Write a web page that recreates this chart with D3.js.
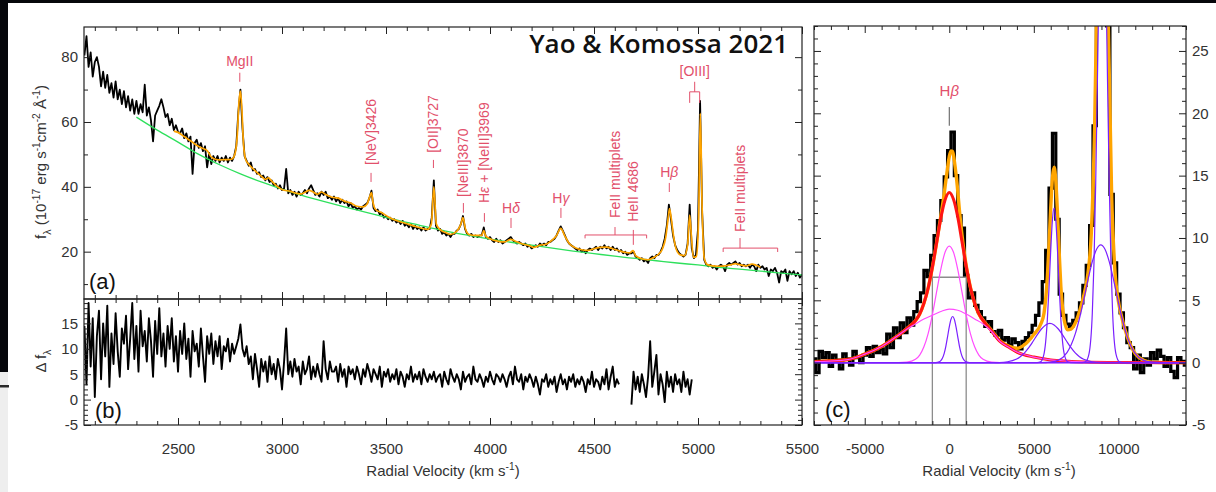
<!DOCTYPE html>
<html>
<head>
<meta charset="utf-8">
<script src="https://cdn.jsdelivr.net/npm/d3@7"></script>
<style>
  html, body { margin: 0; padding: 0; background: #06070b; }
  svg { display: block; }
</style>
</head>
<body>
<svg id="fig" width="1216" height="492"></svg>
<script>
// ---------------------------------------------------------------------------
// Data
// ---------------------------------------------------------------------------

// (a) observed spectrum, 10 Å sampling starting at 2050 Å
const specStart = 2050;
const specStep = 10;
const specFlux = [
  80.5, 86.5, 77.0, 81.5, 74.0, 78.5, 80.0, 77.0, 71.0, 75.5, 70.5, 74.5, 69.0, 72.0, 67.5, 72.5, 67.0, 70.0, 65.5, 69.5, 64.5, 68.0, 63.5, 67.0, 62.5,
  66.5, 62.5, 65.5, 63.0, 71.5, 62.0, 64.5, 60.5, 54.0, 62.0, 63.5, 65.0, 67.0, 64.5, 61.5, 62.5, 59.0, 61.0, 57.5, 59.0,
  57.0, 56.5, 58.0, 55.0, 56.5, 54.0, 55.5, 44.0, 53.5, 54.5, 52.0, 53.5, 51.0, 52.5, 46.0, 50.5, 47.0, 49.5, 48.0, 49.5, 47.5, 49.0, 48.0, 49.5, 47.5, 49.0, 48.0,
  49.5, 52.5, 63.0, 70.0, 58.0, 49.5, 48.0,
  46.5, 47.5, 45.0, 45.5, 44.0, 44.5, 43.0, 43.5, 42.0, 43.0, 41.5, 42.0, 40.5, 41.0, 39.5, 40.5, 39.0, 39.5, 45.5, 38.0, 39.0, 37.5, 38.5, 37.0, 38.5, 37.5, 38.0, 39.0, 38.0, 39.5, 40.5, 39.0, 37.5, 38.0, 37.0, 38.5,
  37.5, 38.5, 36.5, 37.0, 36.0, 37.0, 35.5, 36.5, 35.0, 36.0, 35.0, 35.5, 34.0, 35.0, 33.5, 34.0, 33.0, 33.5, 33.0, 34.0, 34.5, 35.0,
  36.5, 38.8, 33.5,
  32.5, 33.0, 31.5, 32.0, 30.5, 31.0, 30.0, 30.5, 29.5, 30.0, 29.0, 29.5, 28.5, 29.5, 28.0, 28.5, 27.5, 28.5, 27.0, 28.0, 27.0, 27.5, 26.5, 27.5, 26.5, 27.0, 27.0,
  30.5, 42.0, 28.0, 26.5, 27.0, 25.5, 26.0, 25.0, 25.5, 24.5, 25.5, 25.5, 26.5, 27.0, 28.5, 31.0, 27.0, 25.5, 25.0, 25.5, 24.5, 25.0, 24.5, 25.0, 25.0, 27.5, 24.5, 24.0,
  24.5, 23.5, 23.0, 24.0, 23.0, 23.5, 22.5, 23.0, 23.5, 24.0, 24.5, 23.5, 23.0, 22.5, 23.0, 22.5, 22.0, 22.5, 21.5, 22.0, 21.0, 21.5, 22.0, 21.5, 22.5, 22.0, 22.5, 22.0,
  23.0, 23.0, 23.5, 24.0, 25.0, 26.5, 27.8,
  26.5, 25.0, 23.5, 22.5, 22.0, 21.5, 21.0, 20.5, 21.0, 20.0, 20.5, 19.5, 20.5, 21.0, 20.5, 21.0, 21.5, 20.5, 21.5, 21.0, 22.0, 21.0, 21.5, 20.5, 21.5, 20.5, 21.0, 20.0,
  20.5, 19.5, 20.0, 19.0, 19.5, 19.5, 20.0, 18.5, 18.0, 17.5, 18.0, 17.0, 17.5, 16.5, 18.0, 18.5, 18.0, 19.0, 19.0, 20.0, 21.5, 24.0, 28.0, 34.5, 30.0, 25.0, 22.0, 20.5,
  19.5, 19.0, 18.5, 19.0, 22.5, 34.5, 21.0, 18.0, 19.0,
  27.0, 66.5, 32.0, 17.5, 16.0, 15.5, 16.0, 15.0, 15.5, 14.5, 15.5, 16.0, 15.5, 14.0, 16.0, 16.5, 16.0, 16.5, 17.0, 16.0, 16.5, 15.5, 16.0, 15.5, 16.0, 15.0,
  16.0, 15.5, 14.0, 16.0, 15.0, 15.5, 14.5, 15.0, 12.5, 14.5, 14.0, 15.0, 13.5, 10.5, 14.0, 13.5, 14.5, 11.0, 14.0, 13.0, 14.0, 12.5, 13.5, 12.0, 13.0
];

// (a) best-fit model (wavelength, flux)
const modelWave = [2480, 2500, 2530, 2560, 2590, 2620, 2640, 2660, 2680, 2700, 2720, 2740, 2760, 2775, 2785, 2793, 2800, 2807, 2815, 2825, 2840, 2870, 2900, 2920, 2935, 2950, 2980, 3000, 3040, 3070, 3090, 3110, 3130, 3150, 3170, 3190, 3210, 3240, 3270, 3300, 3330, 3360, 3390, 3410, 3422, 3430, 3438, 3450, 3480, 3510, 3550, 3600, 3650, 3700, 3718, 3730, 3742, 3760, 3790, 3810, 3840, 3860, 3870, 3882, 3900, 3930, 3960, 3970, 3980, 4000, 4040, 4070, 4100, 4120, 4150, 4190, 4210, 4240, 4270, 4300, 4320, 4340, 4360, 4380, 4410, 4440, 4470, 4500, 4530, 4560, 4590, 4620, 4650, 4670, 4688, 4700, 4730, 4760, 4790, 4810, 4830, 4845, 4855, 4863, 4872, 4882, 4895, 4915, 4935, 4950, 4960, 4968, 4978, 4992, 5003, 5011, 5020, 5030, 5045, 5070, 5100, 5130, 5160, 5180, 5200, 5230, 5260, 5280, 5300];
const modelFlux = [57.2, 56.8, 55.5, 54.2, 52.8, 51.8, 51.2, 49.2, 48.5, 48.3, 48.4, 48.4, 48.6, 50.5, 56.0, 66.0, 69.5, 64.0, 53.0, 48.5, 47.0, 45.0, 43.3, 42.3, 42.8, 41.8, 40.0, 39.2, 38.6, 38.0, 37.8, 38.3, 38.9, 38.4, 37.7, 38.4, 37.6, 36.8, 36.5, 35.6, 35.0, 34.0, 33.8, 34.8, 37.0, 38.2, 35.0, 33.0, 32.0, 30.8, 29.6, 28.6, 27.6, 26.9, 28.5, 40.0, 28.5, 26.8, 25.8, 25.3, 26.3, 28.5, 30.5, 27.0, 25.3, 25.0, 25.0, 26.5, 24.8, 24.0, 23.2, 23.0, 23.8, 23.3, 22.5, 21.8, 21.3, 22.0, 22.3, 23.6, 25.0, 27.2, 24.8, 22.6, 21.2, 20.6, 20.4, 20.9, 21.3, 21.4, 20.9, 20.3, 19.8, 19.6, 20.3, 18.8, 17.8, 17.5, 18.3, 19.2, 21.0, 24.5, 29.5, 33.3, 30.0, 25.0, 20.8, 19.0, 18.8, 22.0, 31.3, 25.0, 18.2, 18.5, 30.0, 62.7, 33.0, 18.0, 16.0, 15.6, 15.5, 15.6, 16.0, 16.3, 16.0, 15.6, 16.2, 15.8, 15.2];

// (a) power-law continuum
const contWave = [2300, 2400, 2500, 2600, 2700, 2800, 2900, 3000, 3100, 3200, 3300, 3400, 3500, 3600, 3700, 3800, 3900, 4000, 4100, 4200, 4300, 4400, 4500, 4600, 4700, 4800, 4900, 5000, 5100, 5200, 5300, 5400, 5500];
const contFlux = [61.5, 57.5, 53.8, 50.0, 46.8, 44.0, 41.5, 39.3, 37.3, 35.5, 33.8, 32.2, 30.6, 29.0, 27.6, 26.2, 25.0, 23.9, 22.9, 22.0, 21.1, 20.2, 19.4, 18.6, 17.9, 17.2, 16.5, 15.9, 15.2, 14.6, 14.0, 13.4, 12.8];

// (b) difference spectrum, two chunks at 10 Å sampling
const residStartA = 2050;
const residA = [
  14.5, 3.0, 19.0, 6.5, 16.0, 0.5, 12.5, 17.5, 4.0, 15.0,
  8.5, 18.5, 2.5, 13.0, 7.0, 17.0, 9.5, 4.5, 14.0, 11.0,
  16.5, 6.0, 12.0, 19.0, 8.0, 14.5, 5.5, 17.5, 10.5, 13.5,
  7.5, 16.0, 11.5, 4.5, 15.5, 9.0, 18.0, 8.5, 13.0, 6.5,
  14.5, 10.0, 16.0, 7.5, 12.5, 5.5, 13.5, 9.0, 15.0, 8.0,
  12.0, 4.5, 13.5, 9.5, 11.0, 6.5, 14.0, 8.5, 3.5, 12.5,
  9.0, 13.0, 7.0, 11.5, 8.5, 12.5, 6.0, 10.5, 9.5, 12.0,
  7.5, 11.0, 9.0, 10.5, 12.0, 14.8, 10.0, 8.5, 10.5, 7.0,
  8.5, 4.0, 9.0, 6.0, 2.5, 8.0, 5.5, 7.5, 3.5, 8.5,
  5.0, 7.0, 4.0, 8.0, 6.0, 2.0, 7.5, 14.0, 5.0, 7.5,
  4.5, 8.0, 5.5, 6.5, 3.0, 7.5, 5.0, 6.0, 8.5, 4.0,
  6.5, 4.5, 7.0, 5.0, 3.5, 11.5, 6.0, 4.0, 7.5, 5.5,
  5.5, 6.5, 3.5, 7.0, 4.5, 6.0, 2.5, 6.5, 5.0, 6.0,
  4.0, 6.5, 5.0, 3.0, 6.0, 4.5, 7.0, 5.5, 3.5, 6.0,
  5.0, 4.0, 6.5, 2.5, 5.5, 4.5, 6.0, 3.5, 5.0, 4.0,
  6.0, 3.0, 5.5, 4.5, 2.5, 5.0, 4.0, 6.5, 3.5, 5.0,
  4.0, 5.5, 3.0, 6.0, 4.5, 3.5, 5.0, 4.0, 5.5, 3.5,
  4.5, 5.0, 2.5, 5.5, 4.0, 3.0, 6.0, 4.5, 3.5, 5.0,
  4.0, 2.0, 5.5, 3.5, 4.5, 5.0, 3.0, 6.5, 4.0, 3.5,
  5.0, 4.0, 2.5, 4.5, 3.5, 5.5, 4.0, 3.0, 5.0, 4.5,
  3.5, 5.0, 4.0, 2.5, 4.5, 5.5, 3.0, 6.5, 4.0, 3.5,
  5.0, 2.0, 4.5, 3.5, 5.0, 4.0, 2.5, 4.5, 3.0, 1.0,
  4.0, 3.5, 5.0, 2.5, 4.0, 3.0, 4.5, 1.5, 3.5, 5.0,
  3.0, 4.0, 2.0, 4.5, 3.5, 5.0, 2.5, 4.0, 3.0, 4.5,
  3.5, 1.5, 4.0, 3.0, 5.5, 2.5, 4.0, 3.5, 2.0, 4.5,
  3.0, 6.0, 2.0, 4.5, 6.5, 2.5, 4.0, 3.0
];
const residStartB = 4680;
const residB = [
  -1.0, 5.5, 2.0, 4.5, 1.5, 5.0, 3.0, 0.5, 4.5, 11.5,
  2.5, 5.5, 8.8, 1.0, 5.0, 3.0, -0.5, 5.5, 2.5, 4.5,
  1.5, 5.0, 3.0, 4.0, 1.5, 5.5, 2.5, 4.0, 1.0, 4.0
];

// (c) continuum-subtracted H-beta / [OIII] region, 200 km/s bins from -8000 km/s
const velStart = -8000;
const velStep = 200;
const velFlux = [
  0.3, -0.8, 0.9, 0.4, 0.8, -0.3, 0.6, 0.2, -0.5, 0.7,
  0.3, -0.2, 0.9, 0.4, 0.0, 0.6, 1.2, 0.5, 1.3, 0.8,
  1.1, 0.7, 2.3, 1.2, 2.8, 2.0, 3.2, 2.4, 3.6, 3.0,
  4.1, 4.9, 5.6, 7.4, 6.9, 8.6, 10.2, 11.4, 13.0, 14.9,
  17.0, 18.5, 15.0, 11.8, 10.8, 7.0, 5.2, 5.6, 4.6, 4.1,
  3.6, 2.9, 3.3, 2.5, 2.2, 2.6, 1.8, 2.0, 1.4, 1.9,
  1.6, 1.1, 1.7, 2.0, 2.4, 3.0, 3.8, 4.8, 6.5, 9.0,
  14.0, 18.4, 11.5, 5.5, 3.8, 3.1, 2.9, 3.4, 4.0, 4.8,
  6.2, 7.8, 11.0, 19.0, 32.0, 45.0, 44.0, 27.0, 13.5, 8.0,
  5.5, 4.0, 2.8, 1.6, 1.2, -0.5, 0.6, -0.8, 0.3, -0.2,
  0.8, 0.3, 1.0, 0.5, -0.3, 0.4, -0.7, -1.2, 0.4, 0.1,
  -0.2
];

// (c) fit components: [velocity km/s, flux]
const fitTotal = [[-8000,0.07],[-6000,0.25],[-5000,0.68],[-4000,1.3],[-3000,2.2],[-2500,2.74],[-2000,3.37],[-1750,3.9],[-1500,4.77],[-1250,5.98],[-1000,7.64],[-750,9.6],[-500,11.75],[-300,13.55],[-200,14.63],[-100,15.64],[0,16.52],[100,16.97],[200,16.95],[300,16.17],[400,15.12],[500,13.78],[600,12.23],[750,10.26],[1000,7.8],[1250,6.03],[1500,4.77],[1750,3.91],[2000,3.4],[2500,2.6],[3000,1.75],[3500,1.33],[4000,1.15],[4500,1.5],[5000,2.26],[5400,3.06],[5600,3.95],[5800,6.86],[5900,9.47],[6000,12.41],[6100,14.81],[6200,15.67],[6300,14.6],[6400,12.0],[6500,8.86],[6600,6.08],[6800,3.41],[7000,2.64],[7200,2.69],[7400,3.04],[7600,3.68],[7800,4.56],[8000,5.64],[8200,7.16],[8400,10.39],[8600,19.16],[8800,35.3],[8900,43.5],[9000,48.5],[9100,49.0],[9200,44.4],[9300,36.5],[9400,27.5],[9600,13.6],[9800,7.3],[10000,4.95],[10200,3.66],[10400,2.63],[10600,1.8],[10800,1.17],[11000,0.72],[11500,0.18],[12000,0.03],[13000,0],[14000,0]];
const hbBroadTotal = [[-8000,0.07],[-6000,0.25],[-5000,0.68],[-4000,1.3],[-3000,2.2],[-2500,2.74],[-2000,3.37],[-1750,3.9],[-1500,4.77],[-1250,5.98],[-1000,7.64],[-750,9.6],[-500,11.59],[-250,13.05],[0,13.65],[250,13.1],[500,11.69],[750,9.72],[1000,7.74],[1250,6.03],[1500,4.77],[1750,3.91],[2000,3.37],[2500,2.54],[3000,1.7],[3500,1.25],[4000,0.85],[5000,0.45],[6000,0.22],[7000,0.12],[8000,0.06],[10000,0.02],[14000,0]];
const hbGaussA = [[-8000,0],[-3000,0],[-2500,0.04],[-2000,0.27],[-1750,0.61],[-1500,1.27],[-1250,2.33],[-1000,3.84],[-750,5.67],[-500,7.49],[-250,8.85],[0,9.35],[250,8.85],[500,7.49],[750,5.67],[1000,3.84],[1250,2.33],[1500,1.27],[1750,0.61],[2000,0.27],[2500,0.04],[3000,0],[14000,0]];
const hbGaussB = [[-8000,0.07],[-6000,0.25],[-5000,0.68],[-4000,1.3],[-3000,2.2],[-2500,2.7],[-2000,3.1],[-1500,3.5],[-1000,3.8],[-500,4.1],[0,4.3],[500,4.2],[1000,3.9],[1500,3.5],[2000,3.1],[2500,2.5],[3000,1.7],[3500,1.25],[4000,0.85],[5000,0.45],[6000,0.22],[7000,0.12],[8000,0.06],[10000,0.02],[14000,0]];
const hbNarrow = [[-8000,0],[-800,0],[-600,0.06],[-500,0.16],[-400,0.37],[-300,0.75],[-200,1.33],[-100,2.09],[0,2.87],[100,3.47],[200,3.7],[300,3.47],[400,2.87],[500,2.09],[600,1.33],[700,0.75],[800,0.37],[900,0.16],[1000,0.06],[1200,0],[14000,0]];
const o4959Narrow = [[-8000,0],[5200,0],[5400,0.07],[5600,0.69],[5700,1.67],[5800,3.45],[5900,6.04],[6000,9.0],[6100,11.45],[6200,12.4],[6300,11.45],[6400,9.0],[6500,6.04],[6600,3.45],[6700,1.67],[6800,0.69],[7000,0.07],[7200,0],[14000,0]];
const o4959Broad = [[-8000,0],[2450,0],[2950,0.01],[3450,0.07],[3950,0.27],[4200,0.48],[4450,0.78],[4700,1.2],[4950,1.7],[5200,2.23],[5450,2.7],[5700,3.03],[5950,3.15],[6200,3.03],[6450,2.7],[6700,2.23],[6950,1.7],[7200,1.2],[7450,0.78],[7700,0.48],[7950,0.27],[8450,0.07],[8950,0.01],[9450,0],[14000,0]];
const o5007Narrow = [[-8000,0],[7860,0],[8060,0.07],[8260,0.68],[8460,4.0],[8560,8.1],[8660,14.4],[8760,22.5],[8860,31.0],[8960,37.5],[9060,40.0],[9160,37.5],[9260,31.0],[9360,22.5],[9460,14.4],[9560,8.1],[9660,4.0],[9860,0.68],[10060,0.07],[10260,0],[14000,0]];
const o5007Broad = [[-8000,0],[5460,0],[5960,0.04],[6460,0.2],[6960,0.8],[7210,1.43],[7460,2.35],[7710,3.6],[7960,5.09],[8210,6.68],[8460,8.1],[8710,9.09],[8960,9.45],[9210,9.09],[9460,8.1],[9710,6.68],[9960,5.09],[10210,3.6],[10460,2.35],[10710,1.43],[10960,0.8],[11460,0.2],[11960,0.04],[12460,0],[14000,0]];

// FWHM marker of the broad H-beta component
const fwhmEdges = [-1000, 1000];
const fwhmLevel = 6.85;

// Tick values
const abMajorX = [2500, 3000, 3500, 4000, 4500, 5000, 5500];
const aMajorY = [20, 40, 60, 80];
const bMajorY = [-5, 0, 5, 10, 15];
const cMajorX = [-5000, 0, 5000, 10000];
const cMajorY = [-5, 0, 5, 10, 15, 20, 25];

// Emission-line annotations for panel (a)
const lineTags = [
  { parts: [["MgII"]], wave: 2797, flux: 77.2, rotated: false, tick: [75.2, 72.4] },
  { parts: [["[NeV]3426"]], wave: 3428, flux: 46.7, rotated: true, tick: [44.3, 41.5] },
  { parts: [["[OII]3727"]], wave: 3728, flux: 50.5, rotated: true, tick: [48.3, 45.8] },
  { parts: [["[NeIII]3870"]], wave: 3872, flux: 36.9, rotated: true, tick: [35.0, 32.0] },
  { parts: [["H"], ["ε", "it"], [" + [NeIII]3969"]], wave: 3973, flux: 35.0, rotated: true, tick: [31.9, 29.2] },
  { parts: [["H"], ["δ", "it"]], wave: 4101, flux: 31.9, rotated: false, tick: [30.4, 27.3] },
  { parts: [["H"], ["γ", "it"]], wave: 4341, flux: 35.0, rotated: false, tick: [33.5, 30.4] },
  { parts: [["FeII multiplets"]], wave: 4601, flux: 30.4, rotated: true, tick: null },
  { parts: [["HeII 4686"]], wave: 4689, flux: 29.2, rotated: true, tick: [26.7, 22.1] },
  { parts: [["H"], ["β", "it"]], wave: 4862, flux: 43.1, rotated: false, tick: [41.2, 38.4] },
  { parts: [["[OIII]"]], wave: 4984, flux: 74.2, rotated: false, tick: null },
  { parts: [["FeII multiplets"]], wave: 5202, flux: 26.1, rotated: true, tick: null }
];
// brackets: [left wave, right wave, centre wave, bar flux, centre-tick end flux, leg end flux]
const lineBrackets = [
  [4457, 4753, 4601, 25.15, 27.6, 24.1],
  [4960, 5008, 4984, 69.3, 72.4, 65.9],
  [5121, 5383, 5202, 21.1, 24.2, 19.9]
];

// ---------------------------------------------------------------------------
// Drawing
// ---------------------------------------------------------------------------
const W = 1216, H = 492;
const FONT = "'Liberation Sans', Arial, Helvetica, sans-serif";
const INK = "#222";
const TXT = "#333";
const TAG = "#e2506b";
const ORANGE = "#ffa500", GREEN = "#2ee05c", RED = "#ff1414", MAGENTA = "#ff4cff", PURPLE = "#7a1fff";

const svg = d3.select("#fig");

// page backdrop
svg.append("rect").attr("width", W).attr("height", H).attr("fill", "#06070b");
svg.append("rect").attr("x", 8).attr("y", 3).attr("width", W - 8).attr("height", H - 3).attr("fill", "#ffffff");
svg.append("rect").attr("x", 0).attr("y", 372).attr("width", 8).attr("height", H - 372).attr("fill", "#eeeeee");
svg.append("rect").attr("x", 0).attr("y", 385).attr("width", 9).attr("height", 2.5).attr("fill", "#2a2a2a");

const A = { x0: 84, x1: 802, y0: 27, y1: 299 };
const B = { x0: 84, x1: 802, y0: 299, y1: 425 };
const C = { x0: 814, x1: 1186, y0: 26, y1: 425 };

const xAB = d3.scaleLinear().domain([2048, 5500]).range([A.x0, A.x1]);
const yA = d3.scaleLinear().domain([5.4, 89.3]).range([A.y1, A.y0]);
const yB = d3.scaleLinear().domain([-5, 19.8]).range([B.y1, B.y0]);
const xC = d3.scaleLinear().domain([-8000, 14000]).range([C.x0, C.x1]);
const yC = d3.scaleLinear().domain([-5, 27]).range([C.y1, C.y0]);

const defs = svg.append("defs");
function clipFor(id, box) {
  defs.append("clipPath").attr("id", id).append("rect")
    .attr("x", box.x0).attr("y", box.y0).attr("width", box.x1 - box.x0).attr("height", box.y1 - box.y0);
  return svg.append("g").attr("clip-path", `url(#${id})`);
}

function tickSet(orient, scale, pos, values, len, fmt, pad) {
  const maker = { bottom: d3.axisBottom, top: d3.axisTop, left: d3.axisLeft, right: d3.axisRight }[orient];
  const ax = maker(scale).tickValues(values).tickSizeInner(-len).tickSizeOuter(0)
    .tickPadding(pad || 0).tickFormat(fmt || (() => ""));
  const horiz = orient === "bottom" || orient === "top";
  const g = svg.append("g").attr("transform", horiz ? `translate(0,${pos})` : `translate(${pos},0)`).call(ax);
  g.select(".domain").remove();
  g.selectAll("line").attr("stroke", INK).attr("stroke-width", 1);
  g.selectAll("text").attr("font-family", FONT).attr("font-size", 15).attr("fill", TXT);
  return g;
}
const minorOf = (lo, hi, step, majors) => d3.range(lo, hi + step / 2, step).filter(v => !majors.includes(v));
const num = d => String(d);

function frame(box) {
  svg.append("rect").attr("x", box.x0).attr("y", box.y0)
    .attr("width", box.x1 - box.x0).attr("height", box.y1 - box.y0)
    .attr("fill", "none").attr("stroke", INK).attr("stroke-width", 1.2);
}

function rich(textSel, parts, size) {
  let shift = 0;
  parts.forEach(([t, mode]) => {
    const ts = textSel.append("tspan").text(t);
    let target = 0;
    if (mode === "sup") { target = -0.42 * size; ts.attr("font-size", size * 0.68); }
    else if (mode === "sub") { target = 0.32 * size; ts.attr("font-size", size * 0.72); }
    else if (mode === "it") { ts.attr("font-style", "italic"); }
    if (target - shift !== 0) ts.attr("dy", target - shift);
    shift = target;
  });
}

// ---------------- panel (a) ----------------
const gA = clipFor("clipA", A);
const specWave = specFlux.map((_, i) => specStart + specStep * i);

gA.append("path").datum(specFlux)
  .attr("d", d3.line().x((d, i) => xAB(specWave[i])).y(d => yA(d)))
  .attr("fill", "none").attr("stroke", "#000").attr("stroke-width", 1.8).attr("stroke-linejoin", "round");

gA.append("path").datum(contFlux)
  .attr("d", d3.line().curve(d3.curveMonotoneX).x((d, i) => xAB(contWave[i])).y(d => yA(d)))
  .attr("fill", "none").attr("stroke", GREEN).attr("stroke-width", 1.3);

gA.append("path").datum(modelFlux)
  .attr("d", d3.line().curve(d3.curveMonotoneX).x((d, i) => xAB(modelWave[i])).y(d => yA(d)))
  .attr("fill", "none").attr("stroke", ORANGE).attr("stroke-width", 1.7);

// line tags
const tagG = svg.append("g").attr("font-family", FONT).attr("font-size", 14).attr("fill", TAG);
lineTags.forEach(t => {
  const x = xAB(t.wave);
  if (t.rotated) {
    const tx = tagG.append("text").attr("transform", `translate(${x},${yA(t.flux)}) rotate(-90)`)
      .attr("text-anchor", "start").attr("dy", "0.36em");
    rich(tx, t.parts, 14);
  } else {
    const tx = tagG.append("text").attr("x", x).attr("y", yA(t.flux)).attr("text-anchor", "middle");
    rich(tx, t.parts, 14);
  }
  if (t.tick) {
    tagG.append("line").attr("x1", x).attr("x2", x).attr("y1", yA(t.tick[0])).attr("y2", yA(t.tick[1]))
      .attr("stroke", TAG).attr("stroke-width", 1);
  }
});
lineBrackets.forEach(([wl, wr, wc, fBar, fTop, fLeg]) => {
  const p = d3.path();
  p.moveTo(xAB(wl), yA(fLeg)); p.lineTo(xAB(wl), yA(fBar)); p.lineTo(xAB(wr), yA(fBar)); p.lineTo(xAB(wr), yA(fLeg));
  p.moveTo(xAB(wc), yA(fBar)); p.lineTo(xAB(wc), yA(fTop));
  tagG.append("path").attr("d", p.toString()).attr("fill", "none").attr("stroke", TAG).attr("stroke-width", 1);
});

frame(A);
const abMinorX = minorOf(2100, 5400, 100, abMajorX);
tickSet("top", xAB, A.y0, abMajorX, 7);
tickSet("top", xAB, A.y0, abMinorX, 4);
tickSet("bottom", xAB, A.y1, abMajorX, 7);
tickSet("bottom", xAB, A.y1, abMinorX, 4);
tickSet("left", yA, A.x0, aMajorY, 7, num, 6);
tickSet("left", yA, A.x0, [10, 30, 50, 70], 4);
tickSet("right", yA, A.x1, aMajorY, 7);
tickSet("right", yA, A.x1, [10, 30, 50, 70], 4);

// title
svg.append("text").attr("x", 788).attr("y", 53).attr("text-anchor", "end")
  .attr("font-family", "'Open Sans', 'Noto Sans', sans-serif").attr("font-weight", 600)
  .attr("font-size", 26).attr("fill", "#111").text("Yao & Komossa 2021");

svg.append("text").attr("x", 89).attr("y", 289).attr("font-family", FONT).attr("font-size", 22).attr("fill", "#111").text("(a)");

const yLabA = svg.append("text").attr("transform", "translate(46,162) rotate(-90)")
  .attr("text-anchor", "middle").attr("font-family", FONT).attr("font-size", 15).attr("fill", TXT);
rich(yLabA, [["f"], ["λ", "sub"], [" (10"], ["-17", "sup"], [" erg s"], ["-1", "sup"], ["cm"], ["-2", "sup"], [" Å"], ["-1", "sup"], [")"]], 15);

// ---------------- panel (b) ----------------
const gB = clipFor("clipB", B);
const residLine = start => d3.line().x((d, i) => xAB(start + 10 * i)).y(d => yB(d));
gB.append("path").datum(residA).attr("d", residLine(residStartA))
  .attr("fill", "none").attr("stroke", "#000").attr("stroke-width", 1.9).attr("stroke-linejoin", "round");
gB.append("path").datum(residB).attr("d", residLine(residStartB))
  .attr("fill", "none").attr("stroke", "#000").attr("stroke-width", 1.9).attr("stroke-linejoin", "round");

frame(B);
tickSet("top", xAB, B.y0, abMajorX, 7);
tickSet("top", xAB, B.y0, abMinorX, 4);
tickSet("bottom", xAB, B.y1, abMajorX, 7, num, 18);
tickSet("bottom", xAB, B.y1, abMinorX, 4);
const bMinorY = minorOf(-4, 19, 1, bMajorY);
tickSet("left", yB, B.x0, bMajorY, 7, num, 6);
tickSet("left", yB, B.x0, bMinorY, 4);
tickSet("right", yB, B.x1, bMajorY, 7);
tickSet("right", yB, B.x1, bMinorY, 4);

svg.append("text").attr("x", 95).attr("y", 418).attr("font-family", FONT).attr("font-size", 22).attr("fill", "#111").text("(b)");
const yLabB = svg.append("text").attr("transform", "translate(46,361) rotate(-90)")
  .attr("text-anchor", "middle").attr("font-family", FONT).attr("font-size", 15).attr("fill", TXT);
rich(yLabB, [["Δ f"], ["λ", "sub"]], 15);

const xLabAB = svg.append("text").attr("x", 443).attr("y", 476).attr("text-anchor", "middle")
  .attr("font-family", FONT).attr("font-size", 15).attr("fill", TXT);
rich(xLabAB, [["Radial Velocity (km s"], ["-1", "sup"], [")"]], 15);

// ---------------- panel (c) ----------------
const gC = clipFor("clipC", C);
const velAxis = velFlux.map((_, i) => velStart + velStep * i);
const comp = d3.line().curve(d3.curveMonotoneX).x(d => xC(d[0])).y(d => yC(d[1]));

gC.append("path").datum(velFlux)
  .attr("d", d3.line().curve(d3.curveStep).x((d, i) => xC(velAxis[i])).y(d => yC(d)))
  .attr("fill", "none").attr("stroke", "#000").attr("stroke-width", 3.2);

// FWHM marker
const fw = d3.path();
fw.moveTo(xC(fwhmEdges[0]), yC(-5)); fw.lineTo(xC(fwhmEdges[0]), yC(fwhmLevel));
fw.lineTo(xC(fwhmEdges[1]), yC(fwhmLevel)); fw.lineTo(xC(fwhmEdges[1]), yC(-5));
gC.append("path").attr("d", fw.toString()).attr("fill", "none").attr("stroke", "#8c8c8c").attr("stroke-width", 1.3);

gC.append("path").datum(fitTotal).attr("d", comp).attr("fill", "none").attr("stroke", ORANGE).attr("stroke-width", 3.4);
gC.append("path").datum(hbBroadTotal).attr("d", comp).attr("fill", "none").attr("stroke", RED).attr("stroke-width", 3);
[hbGaussA, hbGaussB].forEach(c =>
  gC.append("path").datum(c).attr("d", comp).attr("fill", "none").attr("stroke", MAGENTA).attr("stroke-width", 1.2));
[hbNarrow, o4959Narrow, o4959Broad, o5007Narrow, o5007Broad].forEach(c =>
  gC.append("path").datum(c).attr("d", comp).attr("fill", "none").attr("stroke", PURPLE).attr("stroke-width", 1.2));

// H-beta marker
gC.append("line").attr("x1", xC(0)).attr("x2", xC(0)).attr("y1", yC(20.5)).attr("y2", yC(19.0))
  .attr("stroke", "#555").attr("stroke-width", 1);
const hbTag = svg.append("text").attr("x", xC(0)).attr("y", yC(21.4)).attr("text-anchor", "middle")
  .attr("font-family", FONT).attr("font-size", 15).attr("fill", TAG);
rich(hbTag, [["H"], ["β", "it"]], 15);

frame(C);
const cMinorX = minorOf(-8000, 14000, 1000, cMajorX);
const cMinorY = minorOf(-4, 27, 1, cMajorY);
tickSet("top", xC, C.y0, cMajorX, 7);
tickSet("top", xC, C.y0, cMinorX, 4);
tickSet("bottom", xC, C.y1, cMajorX, 7, num, 18);
tickSet("bottom", xC, C.y1, cMinorX, 4);
tickSet("left", yC, C.x0, cMajorY, 7);
tickSet("left", yC, C.x0, cMinorY, 4);
tickSet("right", yC, C.x1, cMajorY, 7, num, 6);
tickSet("right", yC, C.x1, cMinorY, 4);

svg.append("text").attr("x", 825).attr("y", 417).attr("font-family", FONT).attr("font-size", 22).attr("fill", "#111").text("(c)");
const xLabC = svg.append("text").attr("x", 999).attr("y", 476).attr("text-anchor", "middle")
  .attr("font-family", FONT).attr("font-size", 15).attr("fill", TXT);
rich(xLabC, [["Radial Velocity (km s"], ["-1", "sup"], [")"]], 15);
</script>
</body>
</html>
